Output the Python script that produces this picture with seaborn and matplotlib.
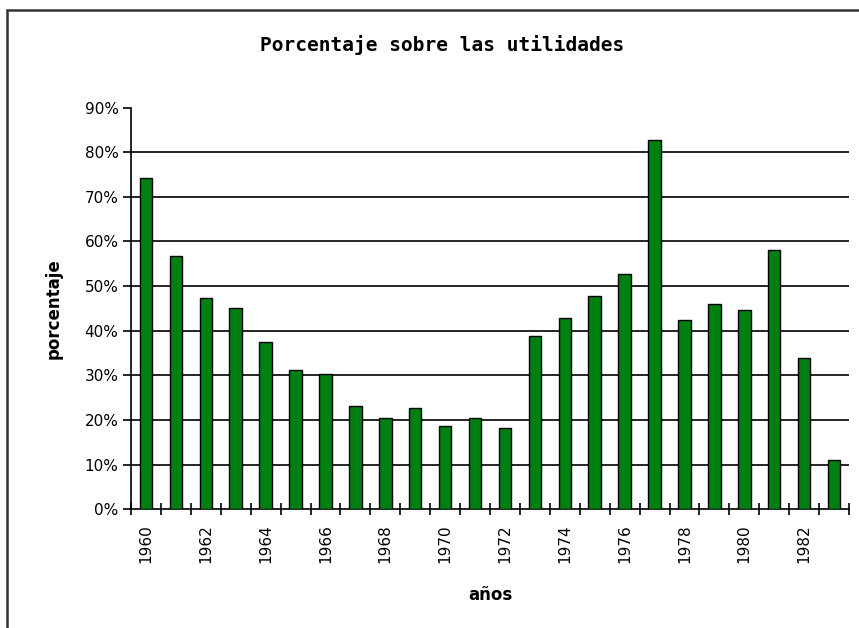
import matplotlib
matplotlib.use("Agg")
import matplotlib.pyplot as plt
from matplotlib.lines import Line2D
from matplotlib.ticker import FixedLocator, PercentFormatter
import seaborn as sns
import pandas as pd

years = list(range(1960, 1984))
values = [74.2, 56.8, 47.3, 45.1, 37.4, 31.2, 30.3, 23.2, 20.4, 22.7, 18.7, 20.4,
          18.2, 38.9, 42.9, 47.8, 52.8, 82.7, 42.4, 46.0, 44.7, 58.1, 33.9, 11.1]
title = "Porcentaje sobre las utilidades"
xlabel = "años"
ylabel = "porcentaje"

df = pd.DataFrame({"year": [str(y) for y in years], "value": values})

sns.set_theme(style="white")
plt.rcParams['font.family'] = ['DejaVu Sans']
plt.rcParams['text.color'] = 'black'
plt.rcParams['axes.labelcolor'] = 'black'

fig = plt.figure(figsize=(8.59, 6.28), dpi=100)
ax = fig.add_axes([131/859, 1-509.3/628, (849-131)/859, (509.3-107.5)/628])

sns.barplot(data=df, x="year", y="value", color="#008012", saturation=1,
            width=0.42, edgecolor="black", linewidth=1.0, ax=ax, zorder=3)

ax.set_ylim(0, 90)
ax.set_xlim(-0.5, len(years) - 0.5)
ax.set_yticks(range(0, 91, 10))
ax.yaxis.set_major_formatter(PercentFormatter(decimals=0))
for v in range(10, 81, 10):
    ax.axhline(v, color="black", linewidth=1.2, zorder=1)

ax.set_xticks(range(0, len(years), 2))
ax.set_xticklabels([str(y) for y in years[::2]], rotation=90)
ax.xaxis.set_minor_locator(FixedLocator([i - 0.5 for i in range(len(years) + 1)]))
ax.tick_params(axis="x", which="major", length=0, pad=11, labelsize=11, colors="black")
ax.tick_params(axis="x", which="minor", length=8, direction="inout", width=1.2, color="black")
ax.tick_params(axis="y", which="major", length=6, direction="out", width=1.2,
               labelsize=11, color="black", labelcolor="black", pad=3)
ax.tick_params(axis="y", left=True)
ax.tick_params(axis="x", bottom=True, which="both")

for s in ["top", "right"]:
    ax.spines[s].set_visible(False)
for s in ["left", "bottom"]:
    ax.spines[s].set_color("black")
    ax.spines[s].set_linewidth(1.2)

ax.set_xlabel(xlabel, fontsize=12, fontweight="bold", labelpad=16, color="black")
ax.set_ylabel(ylabel, fontsize=12, fontweight="bold", labelpad=16, color="black")
fig.text(442/859, 1-45/628, title, fontsize=14, fontweight="bold",
         family="DejaVu Sans Mono", ha="center", va="center", color="black")

fig.add_artist(Line2D([7/859, 1], [1-10/628, 1-10/628], color="#333333", linewidth=1.8))
fig.add_artist(Line2D([7/859, 7/859], [0, 1-10/628], color="#333333", linewidth=1.8))

fig.savefig("out.png", dpi=100)
